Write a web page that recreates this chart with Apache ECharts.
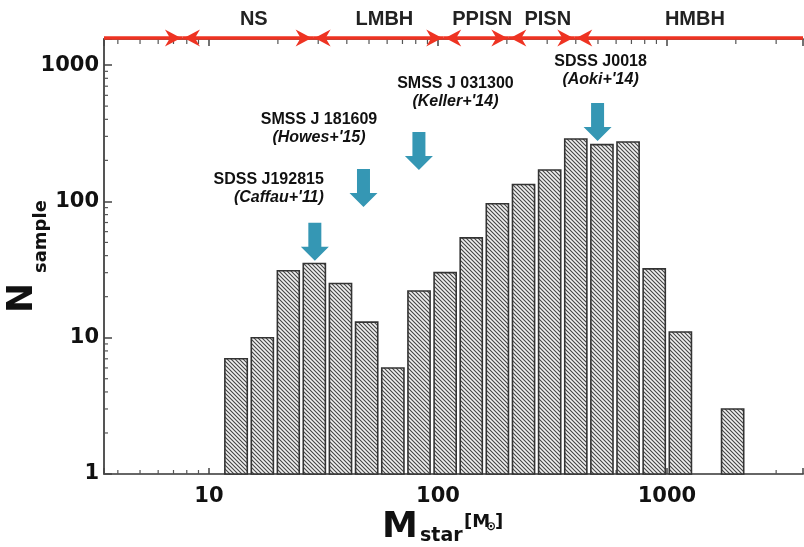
<!DOCTYPE html>
<html>
<head>
<meta charset="UTF-8">
<title>Pop III stellar mass distribution</title>
<script src="https://cdn.jsdelivr.net/npm/echarts@6/dist/echarts.min.js"></script>
<style>
  html, body { margin: 0; padding: 0; background: #fff; }
  #chart { width: 804px; height: 547px; }
</style>
</head>
<body>
<div id="chart"></div>
<script>
// histogram bins (M_star in solar masses) and counts per bin
var binEdges = [11.5, 15.0, 19.5, 25.3, 32.9, 42.8, 55.7, 72.5, 94.3, 122.6, 159.4,
                207.4, 269.7, 350.8, 456.2, 593.4, 771.8, 1004, 1306, 1698, 2209];
var counts = [7, 10, 31, 35, 25, 13, 6, 22, 30, 54, 96, 133, 170, 287, 261, 273, 32, 11, 0, 3];

// final fate ranges along the top
var regionNames = ['', 'NS', 'LMBH', 'PPISN', 'PISN', 'HMBH'];
var regionEdges = [3.48, 7.66, 28.5, 106, 204, 396, 3930];

// observed stars marked with arrows
var starNames = ['SDSS J192815', 'SMSS J 181609', 'SMSS J 031300', 'SDSS J0018'];
var starRefs = ["(Caffau+'11)", "(Howes+'15)", "(Keller+'14)", "(Aoki+'14)"];
var starMass = [29.0, 47.3, 82.6, 498];
var arrowTip = [36.7, 91, 170, 277];

// minor ticks
var xMinor = [4, 5, 6, 7, 8, 9, 20, 30, 40, 50, 60, 70, 80, 90,
              200, 300, 400, 500, 600, 700, 800, 900, 2000, 3000];
var yMinor = [2, 3, 4, 5, 6, 7, 8, 9, 20, 30, 40, 50, 60, 70, 80, 90,
              200, 300, 400, 500, 600, 700, 800, 900];

var xMin = 3.48, xMax = 3930, yMax = 1554;
var font = '"Liberation Sans", Arial, sans-serif';
var heavy = '"DejaVu Sans", sans-serif';

// note text layout, relative to arrow tail
var noteAlign = ['right', 'center', 'center', 'center'];
var noteDx = [9, -44.5, 36.5, 3];
var noteDy = [-43, -49, -48, -41];

// hatch fill
var tile = document.createElement('canvas');
tile.width = 4; tile.height = 4;
var g = tile.getContext('2d');
g.fillStyle = '#f0f0f0';
g.fillRect(0, 0, 4, 4);
g.strokeStyle = '#444';
g.lineWidth = 1.1;
g.beginPath();
g.moveTo(-1, -1); g.lineTo(5, 5);
g.moveTo(-1, 3); g.lineTo(1, 5);
g.moveTo(3, -1); g.lineTo(5, 1);
g.stroke();
var hatch = { image: tile, repeat: 'repeat' };

function tickLabel(v) {
  var l = Math.log10(v);
  return Math.abs(l - Math.round(l)) < 1e-6 ? String(Math.round(v)) : '';
}

var barData = counts.map(function (c, i) { return [binEdges[i], binEdges[i + 1], c]; });
var regionData = regionNames.map(function (n, i) { return [regionEdges[i], regionEdges[i + 1], i]; });
var starData = starMass.map(function (m, i) { return [m, arrowTip[i], i]; });

function renderBar(params, api) {
  var v = api.value(2);
  if (!(v > 0)) return null;
  var a = api.coord([api.value(0), v]);
  var b = api.coord([api.value(1), 1]);
  return {
    type: 'rect',
    shape: { x: a[0] + 2, y: a[1], width: b[0] - a[0] - 4, height: b[1] - a[1] },
    style: { fill: hatch, stroke: '#333', lineWidth: 1.6 }
  };
}

function arrowHead(tip, y, dir) {
  return {
    type: 'polygon',
    shape: { points: [[tip, y], [tip - dir * 16, y - 8.5], [tip - dir * 11, y], [tip - dir * 16, y + 8.5]] },
    style: { fill: '#ee3322' }
  };
}

function renderRegion(params, api) {
  var i = api.value(2);
  var cs = params.coordSys;
  var x0 = api.coord([api.value(0), 1])[0];
  var x1 = api.coord([api.value(1), 1])[0];
  var y = cs.y - 1;
  var kids = [{
    type: 'line',
    shape: { x1: x0, y1: y, x2: x1, y2: y },
    style: { stroke: '#ee3322', lineWidth: 3.5 }
  }];
  if (i > 0) kids.push(arrowHead(x0 + 1.5, y, -1));
  if (i < regionNames.length - 1) kids.push(arrowHead(x1 - 1.5, y, 1));
  if (regionNames[i]) {
    kids.push({
      type: 'text',
      style: {
        text: regionNames[i], x: (x0 + x1) / 2 + 6, y: cs.y - 20,
        align: 'center', verticalAlign: 'middle',
        font: 'bold 20px ' + font, fill: '#222'
      }
    });
  }
  return { type: 'group', children: kids };
}

function renderStar(params, api) {
  var i = api.value(2);
  var p = api.coord([api.value(0), api.value(1)]);
  var x = p[0], tip = p[1], top = tip - 38;
  var tx = x + noteDx[i], ty = top + noteDy[i];
  return {
    type: 'group',
    children: [{
      type: 'polygon',
      shape: { points: [[x - 6.5, top], [x + 6.5, top], [x + 6.5, tip - 14], [x + 14, tip - 14],
                        [x, tip], [x - 14, tip - 14], [x - 6.5, tip - 14]] },
      style: { fill: '#3597b4' }
    }, {
      type: 'text',
      style: { text: starNames[i], x: tx, y: ty, align: noteAlign[i], verticalAlign: 'middle',
               font: 'bold 16px ' + font, fill: '#111' }
    }, {
      type: 'text',
      style: { text: starRefs[i], x: tx, y: ty + 18, align: noteAlign[i], verticalAlign: 'middle',
               font: 'italic bold 16px ' + font, fill: '#111' }
    }]
  };
}

function renderXMinor(params, api) {
  var cs = params.coordSys;
  var x = api.coord([api.value(0), 1])[0];
  return {
    type: 'group',
    children: [
      { type: 'line', shape: { x1: x, y1: cs.y + cs.height, x2: x, y2: cs.y + cs.height - 4 },
        style: { stroke: '#555', lineWidth: 1.2 } },
      { type: 'line', shape: { x1: x, y1: cs.y, x2: x, y2: cs.y + 5 },
        style: { stroke: '#555', lineWidth: 1.2 } }
    ]
  };
}

function renderYMinor(params, api) {
  var cs = params.coordSys;
  var y = api.coord([xMin, api.value(0)])[1];
  return {
    type: 'line',
    shape: { x1: cs.x, y1: y, x2: cs.x + 4, y2: y },
    style: { stroke: '#555', lineWidth: 1.2 }
  };
}

var chart = echarts.init(document.getElementById('chart'), null, { renderer: 'canvas' });

chart.setOption({
  animation: false,
  backgroundColor: '#fff',
  grid: { left: 104, right: 1, top: 39, bottom: 73, containLabel: false, outerBoundsMode: 'none' },
  xAxis: [
    { type: 'log', logBase: 10, min: xMin, max: xMax,
      axisLine: { show: true, lineStyle: { color: '#666', width: 2 } },
      axisTick: { show: true, inside: true, length: 6, lineStyle: { color: '#444', width: 1.5 } },
      axisLabel: { formatter: tickLabel, margin: 12, fontSize: 21, fontWeight: 'bold',
                   fontFamily: heavy, color: '#111' },
      splitLine: { show: false } },
    { type: 'log', logBase: 10, min: xMin, max: xMax, position: 'top',
      axisLine: { show: true, lineStyle: { color: '#666', width: 2 } },
      axisTick: { show: true, inside: true, length: 7, lineStyle: { color: '#444', width: 1.5 } },
      axisLabel: { show: false }, splitLine: { show: false } }
  ],
  yAxis: {
    type: 'log', logBase: 10, min: 1, max: yMax,
    axisLine: { show: true, lineStyle: { color: '#555', width: 2 } },
    axisTick: { show: true, inside: true, length: 8, lineStyle: { color: '#444', width: 1.5 } },
    axisLabel: { formatter: tickLabel, margin: 5, fontSize: 21, fontWeight: 'bold',
                 fontFamily: heavy, color: '#111' },
    splitLine: { show: false }
  },
  graphic: [
    { type: 'text', x: 41, y: 313, rotation: Math.PI / 2,
      style: { text: 'N', font: 'bold 36px ' + heavy, fill: '#111', align: 'left', verticalAlign: 'bottom' } },
    { type: 'text', x: 50, y: 273, rotation: Math.PI / 2,
      style: { text: 'sample', font: 'bold 18px ' + heavy, fill: '#111', align: 'left', verticalAlign: 'bottom' } },
    { type: 'text', x: 382, y: 546,
      style: { text: 'M', font: 'bold 36px ' + heavy, fill: '#111', align: 'left', verticalAlign: 'bottom' } },
    { type: 'text', x: 420, y: 546,
      style: { text: 'star', font: 'bold 19px ' + heavy, fill: '#111', align: 'left', verticalAlign: 'bottom' } },
    { type: 'text', x: 464, y: 513,
      style: { text: '[M', font: 'bold 18px ' + heavy, fill: '#111', align: 'left', verticalAlign: 'top' } },
    { type: 'text', x: 486, y: 521,
      style: { text: '\u2299', font: 'bold 12px ' + heavy, fill: '#111', align: 'left', verticalAlign: 'top' } },
    { type: 'text', x: 495, y: 513,
      style: { text: ']', font: 'bold 18px ' + heavy, fill: '#111', align: 'left', verticalAlign: 'top' } }
  ],
  series: [
    { type: 'custom', name: 'minorX', renderItem: renderXMinor, data: xMinor.map(function (v) { return [v, 1]; }),
      encode: { x: 0, y: 1 }, silent: true, z: 1 },
    { type: 'custom', name: 'minorY', renderItem: renderYMinor, data: yMinor.map(function (v) { return [v]; }),
      encode: { y: 0 }, silent: true, z: 1 },
    { type: 'custom', name: 'N', renderItem: renderBar, data: barData,
      encode: { x: [0, 1], y: 2 }, z: 3 },
    { type: 'custom', name: 'regions', renderItem: renderRegion, data: regionData,
      encode: { x: [0, 1] }, silent: true, z: 5 },
    { type: 'custom', name: 'stars', renderItem: renderStar, data: starData,
      encode: { x: 0, y: 1 }, silent: true, z: 4 }
  ]
});
</script>
</body>
</html>
